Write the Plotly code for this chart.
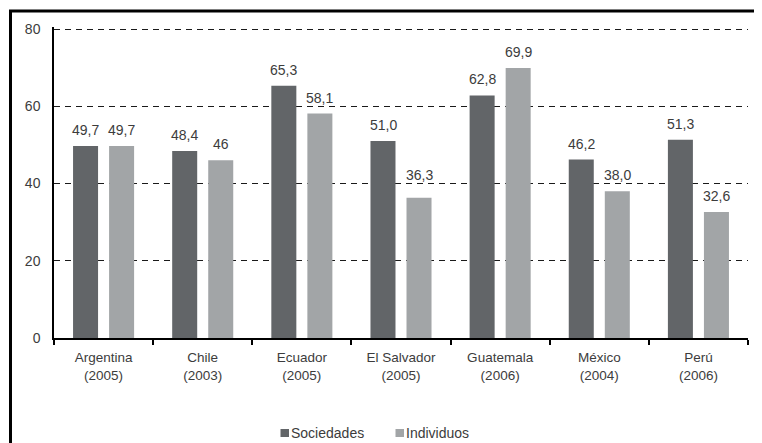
import plotly.graph_objects as go

categories = ["Argentina<br>(2005)", "Chile<br>(2003)", "Ecuador<br>(2005)", "El Salvador<br>(2005)",
              "Guatemala<br>(2006)", "México<br>(2004)", "Perú<br>(2006)"]
series_names = ["Sociedades", "Individuos"]
sociedades = [49.7, 48.4, 65.3, 51.0, 62.8, 46.2, 51.3]
individuos = [49.7, 46.0, 58.1, 36.3, 69.9, 38.0, 32.6]
sociedades_labels = ["49,7", "48,4", "65,3", "51,0", "62,8", "46,2", "51,3"]
individuos_labels = ["49,7", "46", "58,1", "36,3", "69,9", "38,0", "32,6"]
y_ticks = [0, 20, 40, 60, 80]

DARK = "#626568"
LIGHT = "#a2a5a7"
TXT = "#3c3c3c"
FONT = "Liberation Sans, Arial, sans-serif"

# page body has an 8px margin: figure drawn 8px smaller so it fills the window
W, H = 754, 435
ml, mr, mt, mb = 46, 14, 19, 105
pw, ph = W - ml - mr, H - mt - mb
y_top = 80 + (21 - mt) * 80 / 309.0


def px(x):
    return (x - ml) / pw


def py(y):
    return (H - mb - y) / ph


fig = go.Figure()
fig.add_trace(go.Bar(name=series_names[0], x=categories, y=sociedades, marker_color=DARK,
                     marker_line_width=0, showlegend=False))
fig.add_trace(go.Bar(name=series_names[1], x=categories, y=individuos, marker_color=LIGHT,
                     marker_line_width=0, showlegend=False))

annotations = []
for cat, v, lab in zip(categories, sociedades, sociedades_labels):
    annotations.append(dict(x=cat, y=v, text=lab, showarrow=False, xshift=-18, yshift=6,
                            yanchor="bottom", font=dict(size=14, color=TXT, family=FONT)))
for i, (cat, v, lab) in enumerate(zip(categories, individuos, individuos_labels)):
    # the label for El Salvador sits just above the 40 gridline in the original
    ys = 13 if i == 3 else 6
    annotations.append(dict(x=cat, y=v, text=lab, showarrow=False, xshift=18, yshift=ys,
                            yanchor="bottom", font=dict(size=14, color=TXT, family=FONT)))

shapes = [
    dict(type="line", xref="paper", yref="paper", x0=px(1), x1=px(W), y0=py(3), y1=py(3),
         line=dict(color="black", width=3)),
    dict(type="line", xref="paper", yref="paper", x0=px(2.5), x1=px(2.5), y0=py(2), y1=py(H),
         line=dict(color="black", width=3)),
]

# legend: small squares directly followed by the series name
legend_items = [(series_names[0], DARK, 272.5), (series_names[1], LIGHT, 387.5)]
for name, col, x0 in legend_items:
    shapes.append(dict(type="rect", xref="paper", yref="paper", x0=px(x0), x1=px(x0 + 8.5),
                       y0=py(429), y1=py(421), fillcolor=col, line=dict(width=0)))
    annotations.append(dict(xref="paper", yref="paper", x=px(x0 + 8.5), y=py(425), text=name,
                            showarrow=False, xanchor="left", yanchor="middle",
                            font=dict(size=14, color=TXT, family=FONT)))

fig.update_layout(
    width=W, height=H,
    margin=dict(l=ml, r=mr, t=mt, b=mb, autoexpand=False),
    paper_bgcolor="white", plot_bgcolor="white",
    barmode="group", bargap=0.273, bargroupgap=0.306,
    font=dict(family=FONT, size=14, color=TXT),
    showlegend=False,
    annotations=annotations,
    shapes=shapes,
    xaxis=dict(showline=True, linecolor="black", linewidth=1.5, ticks="outside",
               tickson="boundaries", ticklen=5, tickwidth=1.5, tickcolor="black",
               showgrid=False, tickfont=dict(size=13.5, color=TXT), ticklabelstandoff=6,
               fixedrange=True),
    yaxis=dict(range=[0, y_top], tickvals=y_ticks, showline=True, linecolor="black", linewidth=1.5,
               ticks="", showgrid=True, gridcolor="#1a1a1a", gridwidth=1.3, griddash="6px,5px",
               zeroline=False, tickfont=dict(size=14, color=TXT), ticklabelstandoff=9,
               fixedrange=True),
)

fig.write_html("out.html")
